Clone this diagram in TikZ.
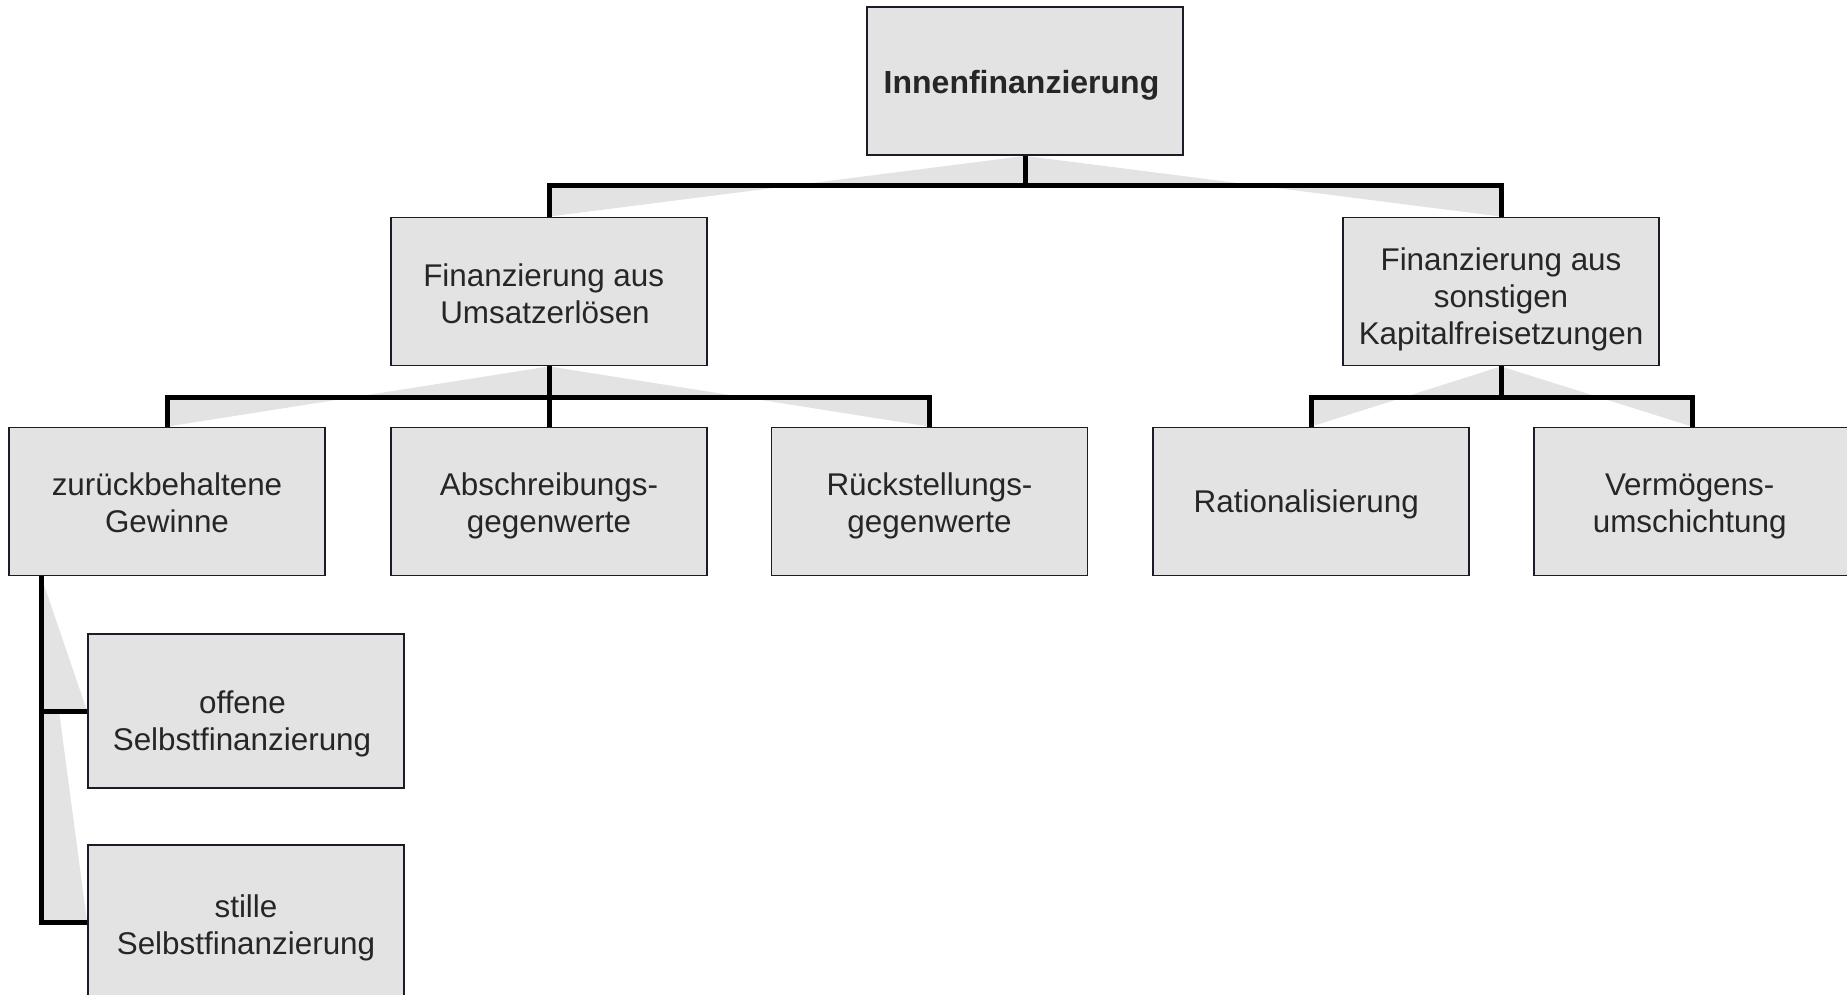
\documentclass[tikz,border=0pt]{standalone}
\usepackage{fontspec}
\setmainfont{Liberation Sans}
\usetikzlibrary{calc,backgrounds}
\definecolor{boxfill}{HTML}{E3E3E3}
\definecolor{boxline}{HTML}{1C1C28}
\definecolor{txt}{HTML}{262626}
\definecolor{shade}{HTML}{E3E3E3}
% #1: height of the first line (places the lines inside the box), #2: the lines
\newcommand\celltext[2]{\rule{0pt}{#1pt}#2\rule[-8pt]{0pt}{8pt}}
% trailing space at the end of a line (moves a centred line to the left)
\newcommand\trail[1]{\hspace*{#1pt}}
\tikzset{
  unit/.style={draw=boxline, line width=1.8pt, fill=boxfill, text=txt,
    minimum width=316pt, minimum height=148pt, inner sep=0pt, align=center,
    font=\fontsize{31.4}{37}\selectfont},
  link/.style={line width=5pt, black, line join=miter},
  wedge/.style={fill=shade, draw=none}
}
\begin{document}
\begin{tikzpicture}[x=1pt, y=-1pt]
  \useasboundingbox (0,0) rectangle (1847,995);

  \node[unit, font=\fontsize{32}{37}\selectfont] (innen) at (1025,81)
    {\celltext{32.6}{\textbf{Innenfinanzierung}\trail{7}}};
  \node[unit] (umsatz) at (549,291.5)   {\celltext{34}{Finanzierung aus\trail{10.6}\\Umsatzerlösen\trail{8}}};
  \node[unit] (sonst)  at (1501,291.5)  {\celltext{39}{Finanzierung aus\\sonstigen\\Kapitalfreisetzungen}};
  \node[unit] (zur)    at (167,501.5)   {\celltext{32}{zurückbehaltene\\Gewinne}};
  \node[unit] (abs)    at (549,501.5)   {\celltext{32}{Abschreibungs-\\gegenwerte}};
  \node[unit] (rueck)  at (929.5,501.5) {\celltext{32}{Rückstellungs-\\gegenwerte}};
  \node[unit] (rat)    at (1311,501.5)  {\celltext{30.4}{Rationalisierung\trail{9.4}}};
  \node[unit] (verm)   at (1692,501.5)  {\celltext{32}{Vermögens-\trail{4.7}\\umschichtung\trail{4.7}}};
  \node[unit, minimum height=154pt] (off)   at (246,711)
    {\celltext{49.6}{offene\trail{7}\\Selbstfinanzierung\trail{8}}};
  \node[unit, minimum height=154pt] (still) at (246,922)
    {\celltext{36.6}{stille\\Selbstfinanzierung}};

  \begin{scope}[on background layer]
    \fill[white] (0,0) rectangle (1847,995);

    % bar levels and the side trunk below "zurückbehaltene Gewinne"
    \coordinate (barA) at (0,186);
    \coordinate (barB) at (0,397);
    \coordinate (trunk) at ($(zur.south west)+(33,0)$);

    % light shading wedges behind the connectors
    \foreach \p/\c/\b in {innen/umsatz/barA, innen/sonst/barA,
                          umsatz/zur/barB, umsatz/abs/barB, umsatz/rueck/barB,
                          sonst/rat/barB, sonst/verm/barB} {
      \fill[wedge] (\p.south) -- (\p.south |- \b) -- (\c.north |- \b) -- (\c.north) -- cycle;
    }
    \foreach \c in {off, still} {
      \fill[wedge] (trunk) -- (trunk |- \c.west) -- (\c.west) -- cycle;
    }

    % connectors
    \foreach \p/\c/\b in {innen/umsatz/barA, innen/sonst/barA,
                          umsatz/zur/barB, umsatz/abs/barB, umsatz/rueck/barB,
                          sonst/rat/barB, sonst/verm/barB} {
      \draw[link] (\p.south) -- (\p.south |- \b) -| (\c.north);
    }
    \foreach \c in {off, still} {
      \draw[link] (trunk) |- (\c.west);
    }
  \end{scope}
\end{tikzpicture}
\end{document}
